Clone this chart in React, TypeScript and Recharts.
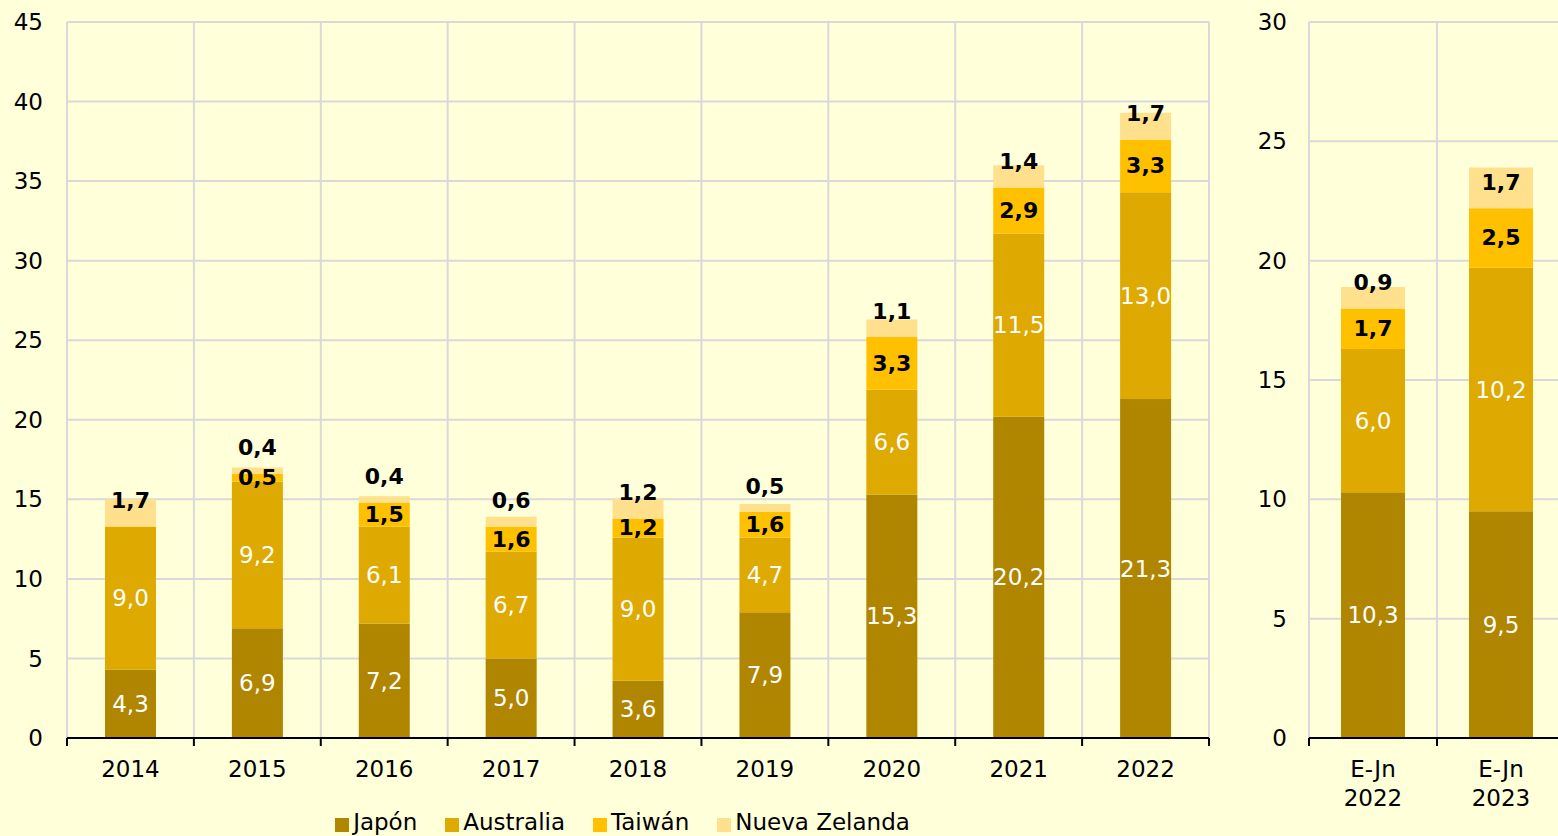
import { Bar, BarChart, CartesianGrid, LabelList, Legend, XAxis, YAxis } from 'recharts';

// Left panel: full years
const years = ['2014', '2015', '2016', '2017', '2018', '2019', '2020', '2021', '2022'];
const japon = [4.3, 6.9, 7.2, 5.0, 3.6, 7.9, 15.3, 20.2, 21.3];
const australia = [9.0, 9.2, 6.1, 6.7, 9.0, 4.7, 6.6, 11.5, 13.0];
const taiwan = [0.0, 0.5, 1.5, 1.6, 1.2, 1.6, 3.3, 2.9, 3.3];
const nuevaZelanda = [1.7, 0.4, 0.4, 0.6, 1.2, 0.5, 1.1, 1.4, 1.7];

// Right panel: January-June
const periods = ['E-Jn 2022', 'E-Jn 2023'];
const japonYtd = [10.3, 9.5];
const australiaYtd = [6.0, 10.2];
const taiwanYtd = [1.7, 2.5];
const nuevaZelandaYtd = [0.9, 1.7];

const leftTicks = [0, 5, 10, 15, 20, 25, 30, 35, 40, 45];
const rightTicks = [0, 5, 10, 15, 20, 25, 30];

const series = [
  { key: 'japon', name: 'Japón', color: '#B08500' },
  { key: 'australia', name: 'Australia', color: '#DEA900' },
  { key: 'taiwan', name: 'Taiwán', color: '#FFC000' },
  { key: 'nz', name: 'Nueva Zelanda', color: '#FFE08C' },
];
const BG = '#FFFFDA';
const GRID = '#D9D9D9';
const FONT = '"DejaVu Sans", sans-serif';

const leftData = years.map((year, i) => ({
  name: year,
  japon: japon[i],
  australia: australia[i],
  taiwan: taiwan[i],
  nz: nuevaZelanda[i],
}));

const rightData = periods.map((p, i) => ({
  name: p,
  japon: japonYtd[i],
  australia: australiaYtd[i],
  taiwan: taiwanYtd[i],
  nz: nuevaZelandaYtd[i],
}));

const fmt = (v: number) => Number(v).toFixed(1).replace('.', ',');

const box = (props: any) => {
  const vb = props.viewBox || {};
  return {
    x: props.x ?? vb.x,
    y: props.y ?? vb.y,
    width: props.width ?? vb.width,
    height: props.height ?? vb.height,
  };
};

const centerLabel = (color: string, bold: boolean) => (props: any) => {
  const { x, y, width, height } = box(props);
  return (
    <text
      x={x + width / 2}
      y={y + height / 2}
      fill={color}
      textAnchor="middle"
      dominantBaseline="central"
      fontSize={bold ? 22 : 23}
      fontWeight={bold ? 'bold' : 'normal'}
      style={{ fontFamily: FONT }}
    >
      {fmt(props.value)}
    </text>
  );
};

// top segment labels sit just above the segment base
const topLabel = (props: any) => {
  const { x, y, width, height } = box(props);
  return (
    <text
      x={x + width / 2}
      y={y + height - 26}
      fill="#000"
      textAnchor="middle"
      dominantBaseline="central"
      fontSize={22}
      fontWeight="bold"
      style={{ fontFamily: FONT }}
    >
      {fmt(props.value)}
    </text>
  );
};

const labelFor = (key: string) => {
  if (key === 'nz') return topLabel;
  if (key === 'taiwan') return centerLabel('#000', true);
  return centerLabel('#fff', false);
};

const makeTick = (count: number, bandWidth: number) => (props: any) => {
  const { x, y, payload, index } = props;
  const lines = String(payload.value).split(' ');
  const left = x - bandWidth / 2;
  const right = x + bandWidth / 2;
  return (
    <g>
      <line x1={left} x2={left} y1={y} y2={y + 8} stroke="#000" strokeWidth={2} />
      {index === count - 1 && (
        <line x1={right} x2={right} y1={y} y2={y + 8} stroke="#000" strokeWidth={2} />
      )}
      <text x={x} y={y + 39} textAnchor="middle" fill="#000" fontSize={23} style={{ fontFamily: FONT }}>
        {lines.map((l, i) => (
          <tspan key={i} x={x} dy={i === 0 ? 0 : 29}>
            {l}
          </tspan>
        ))}
      </text>
    </g>
  );
};

const gridGen = (n: number) => ({ offset }: any) =>
  Array.from({ length: n + 1 }, (_, i) => offset.left + (i * offset.width) / n);

const renderLegend = () => (
  <div
    style={{
      display: 'flex',
      justifyContent: 'center',
      gap: 28,
      height: 22,
      lineHeight: '22px',
      fontSize: 23,
      fontFamily: FONT,
      color: '#000',
      paddingLeft: 36,
      transform: 'translateY(-3px)',
    }}
  >
    {series.map((s) => (
      <div key={s.key} style={{ display: 'flex', alignItems: 'center' }}>
        <span
          style={{
            display: 'inline-block',
            width: 14,
            height: 14,
            background: s.color,
            marginRight: 4,
            marginTop: 5,
          }}
        />
        <span>{s.name}</span>
      </div>
    ))}
  </div>
);

const LEFT_W = 1240;
const LEFT_MARGIN = { top: 22, right: 31, left: 0, bottom: 0 };
const LEFT_YAXIS_W = 67;
const LEFT_BAND = (LEFT_W - LEFT_MARGIN.right - LEFT_YAXIS_W) / years.length;

const RIGHT_W = 330;
const RIGHT_MARGIN = { top: 22, right: 5, left: 0, bottom: 0 };
const RIGHT_YAXIS_W = 69;
const RIGHT_BAND = (RIGHT_W - RIGHT_MARGIN.right - RIGHT_YAXIS_W) / periods.length;

export default function App() {
  return (
    <div
      style={{
        position: 'absolute',
        left: 0,
        top: 0,
        width: 1558,
        height: 836,
        overflow: 'hidden',
        background: BG,
        fontFamily: FONT,
      }}
    >
      <div style={{ position: 'absolute', left: 0, top: 0 }}>
        <BarChart width={LEFT_W} height={836} data={leftData} margin={LEFT_MARGIN}>
          <CartesianGrid stroke={GRID} strokeWidth={2} verticalCoordinatesGenerator={gridGen(years.length)} />
          <XAxis
            dataKey="name"
            height={76}
            interval={0}
            tickSize={0}
            tickMargin={0}
            tickLine={false}
            axisLine={{ stroke: '#000', strokeWidth: 2 }}
            tick={makeTick(years.length, LEFT_BAND)}
          />
          <YAxis
            type="number"
            domain={[0, 45]}
            ticks={leftTicks}
            interval={0}
            width={LEFT_YAXIS_W}
            axisLine={false}
            tickLine={false}
            tickSize={0}
            tickMargin={24}
            tick={{ fontSize: 23, fill: '#000', fontFamily: FONT }}
          />
          <Legend verticalAlign="bottom" height={22} content={renderLegend} />
          {series.map((s) => (
            <Bar key={s.key} dataKey={s.key} name={s.name} stackId="a" fill={s.color} barSize={51} isAnimationActive={false}>
              <LabelList dataKey={s.key} content={labelFor(s.key)} />
            </Bar>
          ))}
        </BarChart>
      </div>
      <div style={{ position: 'absolute', left: 1240, top: 0 }}>
        <BarChart width={RIGHT_W} height={836} data={rightData} margin={RIGHT_MARGIN}>
          <CartesianGrid stroke={GRID} strokeWidth={2} verticalCoordinatesGenerator={gridGen(periods.length)} />
          <XAxis
            dataKey="name"
            height={98}
            interval={0}
            tickSize={0}
            tickMargin={0}
            tickLine={false}
            axisLine={{ stroke: '#000', strokeWidth: 2 }}
            tick={makeTick(periods.length, RIGHT_BAND)}
          />
          <YAxis
            type="number"
            domain={[0, 30]}
            ticks={rightTicks}
            interval={0}
            width={RIGHT_YAXIS_W}
            axisLine={false}
            tickLine={false}
            tickSize={0}
            tickMargin={22}
            tick={{ fontSize: 23, fill: '#000', fontFamily: FONT }}
          />
          {series.map((s) => (
            <Bar key={s.key} dataKey={s.key} name={s.name} stackId="a" fill={s.color} barSize={64} isAnimationActive={false}>
              <LabelList dataKey={s.key} content={labelFor(s.key)} />
            </Bar>
          ))}
        </BarChart>
      </div>
    </div>
  );
}
